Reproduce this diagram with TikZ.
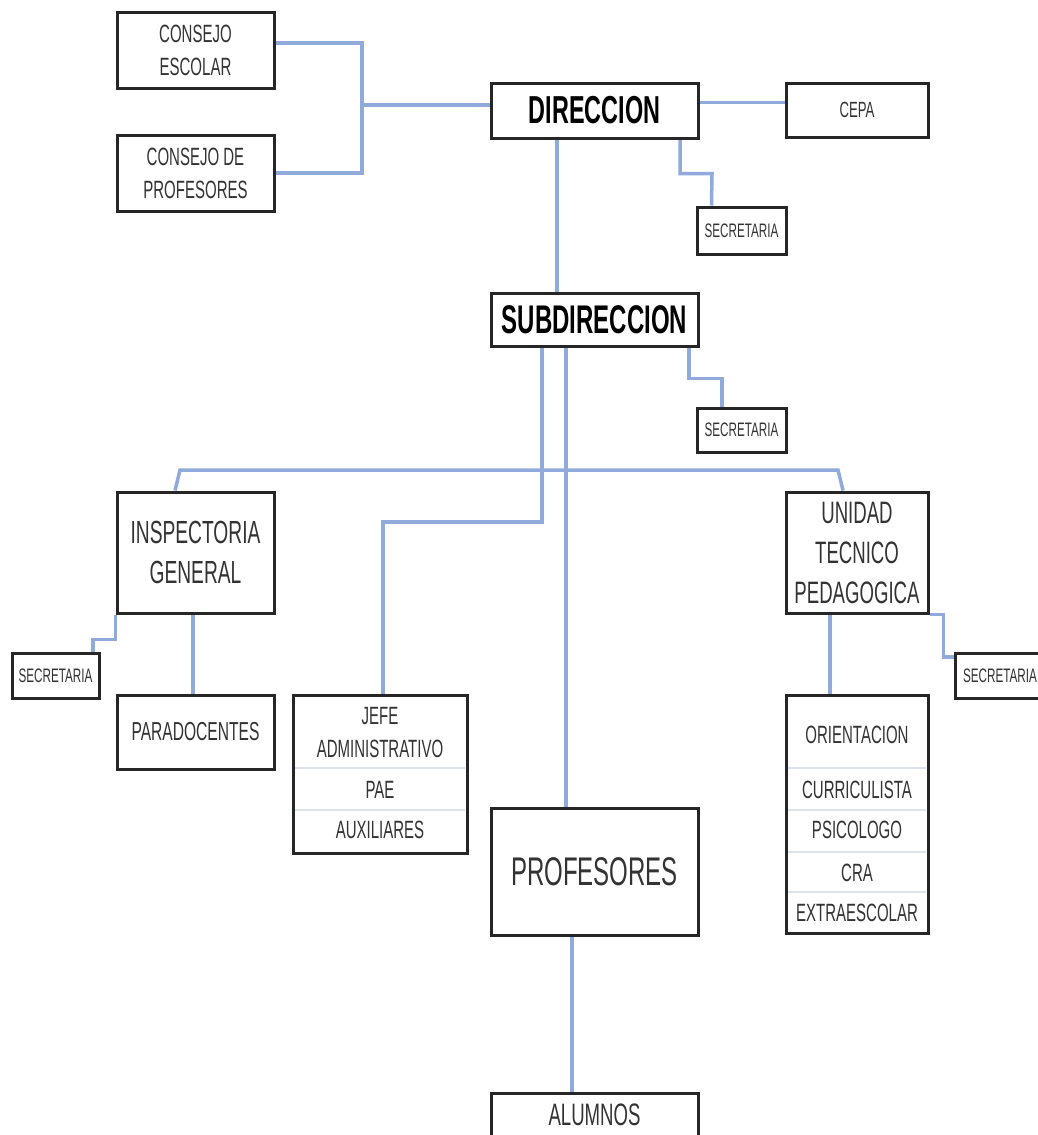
\documentclass[tikz,border=0pt]{standalone}
\usepackage{fontspec}
\usetikzlibrary{backgrounds}
\newfontfamily\orgfont[FakeStretch=0.6]{Liberation Sans}
\newcommand{\orgsize}[2]{\orgfont\fontsize{#1}{#2}\selectfont}
\definecolor{linkblue}{RGB}{143,170,219}
\definecolor{rowline}{RGB}{222,226,234}

\begin{document}
\begin{tikzpicture}[x=1pt, y=-1pt]
\tikzstyle{box}=[draw=black!85, line width=3pt, fill=white, inner sep=0pt, align=center, text=black!80]
\tikzstyle{secre}=[box, minimum width=89, minimum height=45, font=\orgsize{19.5}{20}]
\tikzstyle{rowtext}=[inner sep=0pt, align=center, text=black!80, font=\orgsize{25}{33}]
\tikzstyle{link}=[draw=linkblue, line width=3.5pt]
\tikzstyle{sep}=[draw=rowline, line width=2pt]
\useasboundingbox (0,0) rectangle (1037,1135);

% Consejos
\node at (195.5,50) [box, minimum width=157, minimum height=76, font=\orgsize{25}{33}] (c_escolar) {CONSEJO\\ESCOLAR};
\node at (195.5,173) [box, minimum width=157, minimum height=76, font=\orgsize{25}{33}] (c_profesores) {CONSEJO DE\\PROFESORES};

% Direccion
\node at (594.5,110.5) [box, minimum width=207, minimum height=55, font=\orgsize{39}{40}\bfseries, text=black] (direccion) {DIRECCION};
\node at (857,110) [box, minimum width=142, minimum height=54, font=\orgsize{22}{24}] (cepa) {CEPA};
\node at (741.5,230.5) [secre, minimum height=47] (secre_1) {SECRETARIA};

% Subdireccion
\node at (594.5,319.5) [box, minimum width=207, minimum height=53, font=\orgsize{40}{42}\bfseries, text=black] (subdireccion) {SUBDIRECCION};
\node at (741.5,430) [secre, minimum height=44] (secre_2) {SECRETARIA};

% Inspectoria
\node at (195.5,552.5) [box, minimum width=157, minimum height=121, font=\orgsize{32}{40}] (inspectoria) {INSPECTORIA\\GENERAL};
\node at (55.5,675.5) [secre, minimum width=87] (secre_3) {SECRETARIA};
\node at (195.5,732) [box, minimum width=157, minimum height=74, font=\orgsize{26}{30}] (paradocentes) {PARADOCENTES};

% Jefe administrativo
\node at (380,774) [box, minimum width=174, minimum height=158] (jefe) {};
\foreach \y in {768,810}
\draw [sep] (295,\y) -- (465,\y);
\node at (380,733) [rowtext] (jefe_1) {JEFE\\ADMINISTRATIVO};
\node at (380,790) [rowtext] (jefe_2) {PAE};
\node at (380,830) [rowtext] (jefe_3) {AUXILIARES};

% Unidad tecnico pedagogica
\node at (857,552.5) [box, minimum width=142, minimum height=121, font=\orgsize{31}{40}] (utp) {UNIDAD\\TECNICO\\PEDAGOGICA};
\node at (1000,675.5) [secre, minimum width=90] (secre_4) {SECRETARIA};
\node at (857,814) [box, minimum width=142, minimum height=238] (orient) {};
\foreach \y in {768,810,852,892}
\draw [sep] (788,\y) -- (926,\y);
\foreach \t/\y [count=\i] in {ORIENTACION/735, CURRICULISTA/790, PSICOLOGO/830, CRA/873, EXTRAESCOLAR/913}
\node at (857,\y) [rowtext] (orient_\i) {\t};

% Profesores
\node at (594.5,871.5) [box, minimum width=207, minimum height=127, font=\orgsize{40}{44}] (profesores) {PROFESORES};
\node at (594.5,1115) [box, minimum width=207, minimum height=44, font=\orgsize{31}{34}] (alumnos) {ALUMNOS};

% Links
\begin{scope}[on background layer]
\fill [white] (0,0) rectangle (1037,1135);
\coordinate (c_join) at (362,105);
\draw [link] ([yshift=7pt]c_escolar.east) -| (c_join);
\draw [link] (c_profesores.east) -| (c_join);
\draw [link] (c_join) -- (direccion.west |- c_join);
\draw [link] ([yshift=8pt]direccion.east) -- ([yshift=8pt]direccion.east -| cepa.west);
\draw [link] ([xshift=85.5pt]direccion.south) -- ++(0,34) -- ++(32,0) -- ([xshift=-30pt]secre_1.north);
\draw [link] ([xshift=-37.5pt]direccion.south) -- ([xshift=-37.5pt]subdireccion.north);

\draw [link] ([xshift=94.5pt]subdireccion.south) -- ++(0,31) -- ++(33,0) -- ([xshift=-19.5pt]secre_2.north);
\coordinate (jefe_bend) at (383,522);
\draw [link] ([xshift=-52.5pt]subdireccion.south) |- (jefe_bend) -- (jefe_bend |- jefe.north);
\draw [link] ([xshift=-28.5pt]subdireccion.south) -- ([xshift=-28.5pt]subdireccion.south |- profesores.north);

\coordinate (bar_l) at (180,470);
\coordinate (bar_r) at (838,470);
\draw [link] ([xshift=-20.5pt]inspectoria.north) -- (bar_l) -- (bar_r) -- ([xshift=-14pt]utp.north);

\draw [link] ([xshift=-2.5pt]inspectoria.south) -- ([xshift=-2.5pt]paradocentes.north);
\draw [link] (inspectoria.south west) -- ++(0,25) -| ([xshift=37.5pt]secre_3.north);
\draw [link] ([xshift=-27pt]utp.south) -- ([xshift=-27pt]orient.north);
\draw [link] (utp.south east) -- ++(14,0) |- ([yshift=18.5pt]secre_4.west);
\draw [link] ([xshift=-22.5pt]profesores.south) -- ([xshift=-22.5pt]alumnos.north);
\end{scope}
\end{tikzpicture}
\end{document}
